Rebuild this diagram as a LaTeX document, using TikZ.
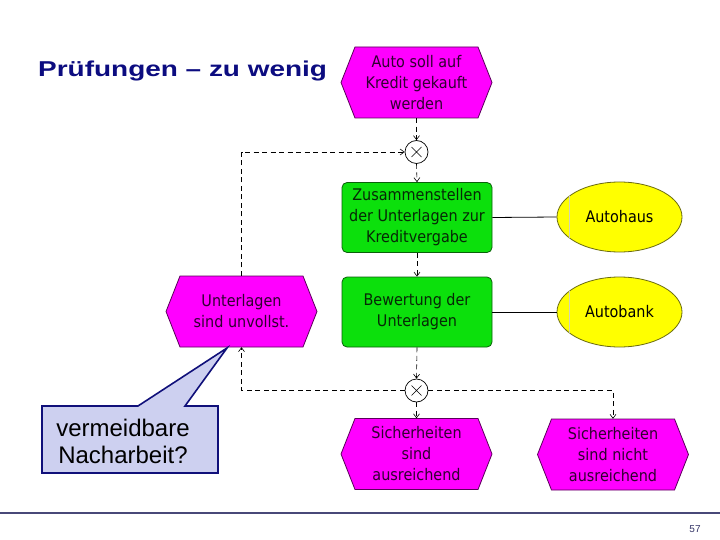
\documentclass[tikz,border=0pt]{standalone}
\usepackage{fontspec}
\usepackage{graphicx}
\setmainfont{DejaVu Sans}
\newfontfamily\diagf{DejaVu Sans Condensed}
\newfontfamily\arialf[Ligatures=TeX]{Liberation Sans}
\usetikzlibrary{arrows.meta,calc,shapes.geometric}
\definecolor{evfill}{HTML}{FF00FF}
\definecolor{evborder}{HTML}{5A005A}
\definecolor{evtextc}{HTML}{300030}
\definecolor{fnfill}{HTML}{0CE00C}
\definecolor{fnborder}{HTML}{0A600A}
\definecolor{fntextc}{HTML}{062806}
\definecolor{orgfill}{HTML}{FFFF00}
\definecolor{orgborder}{HTML}{6A6A10}
\definecolor{titleblue}{HTML}{0C0C80}
\definecolor{notefill}{HTML}{CDD0F0}
\definecolor{noteborder}{HTML}{10107A}
\definecolor{footline}{HTML}{484878}
\definecolor{pagenum}{HTML}{333366}
\tikzset{
  evshape/.style={fill=evfill,draw=evborder,line width=0.8pt},
  evtext/.style={text=evtextc,font=\diagf\fontsize{16}{21}\selectfont,align=center,
    minimum width=151pt,minimum height=71pt,inner sep=0pt},
  fnbox/.style={rectangle,rounded corners=5pt,fill=fnfill,draw=fnborder,line width=0.8pt,
    text=fntextc,font=\diagf\fontsize{16}{21}\selectfont,align=center,
    minimum width=150pt,minimum height=70pt,inner sep=0pt},
  orgunit/.style={ellipse,fill=orgfill,draw=orgborder,line width=0.8pt,
    text=black,font=\diagf\fontsize{16}{21}\selectfont,
    minimum width=125pt,minimum height=70pt,inner sep=0pt},
  xorc/.style={circle,draw=black,fill=white,line width=0.7pt,minimum size=23pt,inner sep=0pt},
  flow/.style={draw=black,line width=0.6pt,dash pattern=on 5pt off 3.5pt,
    -{Straight Barb[length=4pt,width=6pt,line width=0.6pt]}},
  link/.style={draw=black,line width=0.8pt},
}
\newcommand\evnode[4]{%
  \path[evshape,shift={(#2,#3)}] (-75.5,0) -- (-61.5,-35.5) -- (61.5,-35.5) -- (75.5,0)
     -- (61.5,35.5) -- (-61.5,35.5) -- cycle;
  \node[evtext] (#1) at (#2,#3) {#4};}
\newcommand\xornode[3]{%
  \node[xorc] (#1) at (#2,#3) {};
  \draw[line width=0.6pt] ($(#1.center)+(-5,-5)$) -- ($(#1.center)+(5,5)$)
     ($(#1.center)+(-5,5)$) -- ($(#1.center)+(5,-5)$);}
\begin{document}
\begin{tikzpicture}[x=1pt,y=-1pt]
\useasboundingbox[fill=white] (0,0) rectangle (720,540);

% title
\node[anchor=base west,inner sep=0pt,text=titleblue] (title) at (38,77)
  {\scalebox{1.3}[1]{\arialf\bfseries\fontsize{21.5}{25}\selectfont Prüfungen – zu wenig}};

% events
\evnode{e1}{416.5}{82.5}{Auto soll auf\\Kredit gekauft\\werden}
\evnode{eunv}{241.5}{311.5}{Unterlagen\\sind unvollst.}
\evnode{eok}{416.5}{454}{Sicherheiten\\sind\\ausreichend}
\evnode{enok}{613}{454.5}{Sicherheiten\\sind nicht\\ausreichend}

% functions
\node[fnbox] (f1) at (417,217.5) {Zusammenstellen\\der Unterlagen zur\\Kreditvergabe};
\node[fnbox] (f2) at (417,312) {Bewertung der\\Unterlagen};

% organisational units
\node[orgunit] (a1) at (619.5,217) {Autohaus};
\node[orgunit] (a2) at (619.5,312) {Autobank};
\foreach \n in {a1,a2}{
  \draw[orgborder!30,line width=0.4pt] ($(\n.center)+(-50,-21)$) -- ($(\n.center)+(-50,21)$);}

% xor connectors
\xornode{x1}{416.5}{152}
\xornode{x2}{416.5}{390.5}

% control flow
\draw[flow] (e1.south) -- (x1.north);
\draw[flow] (x1.south) -- (f1.north);
\draw[flow] (f1.south) -- (f2.north);
\draw[flow] (f2.south) -- (x2.north);
\draw[flow] (x2.south) -- (eok.north);
\draw[flow] (x2.west) -| (eunv.south);
\draw[flow] (x2.east) -| (enok.north);
\draw[flow] (eunv.north) |- (x1.west);

% assignments
\draw[link] (f1.east) -- (a1.west);
\draw[link] (f2.east) -- (a2.west);

% callout
\path[fill=notefill,draw=noteborder,line width=1.6pt,line join=miter]
  (42,406) -- (138,406) -- (227,348) -- (185,406) -- (218,406) -- (218,473) -- (42,473) -- cycle;
\node[align=center,text=black,font=\arialf\fontsize{24}{27}\selectfont] (note) at (123,441)
  {vermeidbare\\Nacharbeit?};

% footer
\coordinate (fl) at (0,513);
\coordinate (fr) at (720,513);
\draw[footline,line width=2.4pt] (fl) -- (fr);
\node[text=pagenum,font=\arialf\fontsize{10}{12}\selectfont] (pg) at (695,529) {57};
\end{tikzpicture}
\end{document}
